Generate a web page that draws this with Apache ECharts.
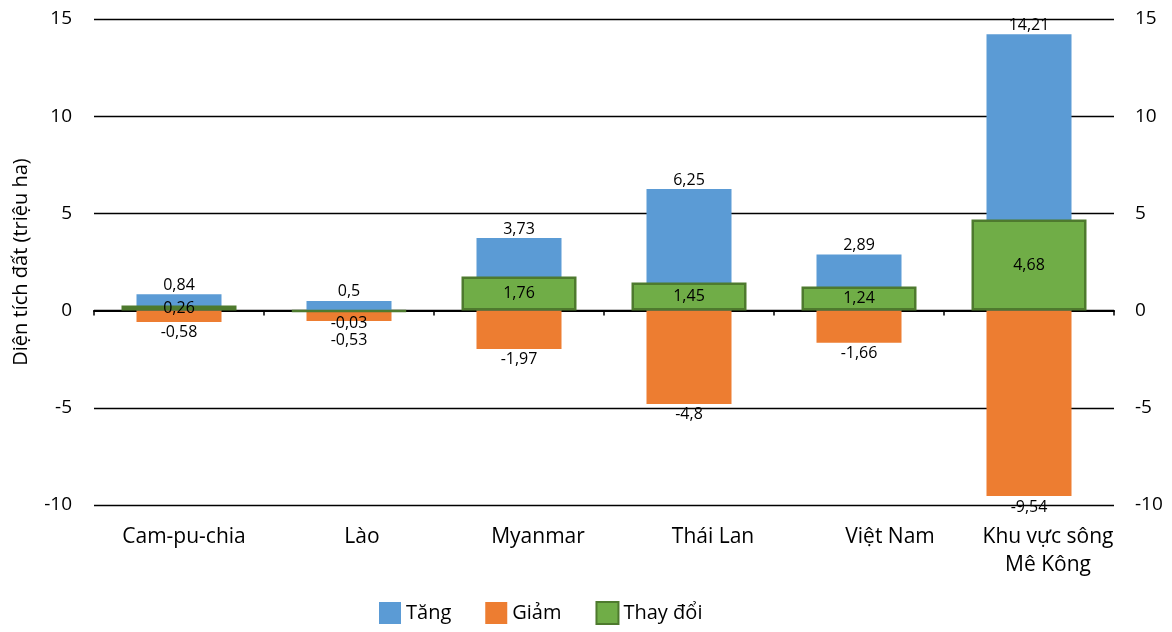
<!DOCTYPE html>
<html>
<head>
<meta charset="utf-8">
<script src="https://cdn.jsdelivr.net/npm/echarts@6/dist/echarts.min.js"></script>
<style>
  html, body { margin: 0; padding: 0; background: #fff; }
  #main { width: 1172px; height: 632px; }
</style>
</head>
<body>
<div id="main"></div>
<script>
// Chart data
const categories = ['Cam-pu-chia', 'Lào', 'Myanmar', 'Thái Lan', 'Việt Nam', 'Khu vực sông\nMê Kông'];
const tang = [0.84, 0.5, 3.73, 6.25, 2.89, 14.21];
const giam = [-0.58, -0.53, -1.97, -4.8, -1.66, -9.54];
const thayDoi = [0.26, -0.03, 1.76, 1.45, 1.24, 4.68];
const yTicks = { min: -10, max: 15, interval: 5 };

const font = 'Open Sans';
const fmt = v => String(v).replace('.', ',');

// the original's category names drift a little to the right of each slot
const labelShift = [5, 13, 19, 24, 31, 19];
const bottomCats = categories.map((c, i) => ({
  value: c,
  textStyle: { padding: [0, 0, 0, labelShift[i] * 2] }
}));

// tiny negative change sits below the line instead of inside
const thayDoiData = thayDoi.map(v => v < 0 && v > -0.2
  ? { value: v, label: { position: 'bottom', distance: 3 } }
  : v);
// push the orange label down where it would collide with that one
const giamData = giam.map((v, i) => thayDoi[i] < 0 && thayDoi[i] > -0.2
  ? { value: v, label: { distance: 12 } }
  : v);

var myChart = echarts.init(document.getElementById('main'));

const option = {
  textStyle: { fontFamily: font },
  animation: false,
  grid: { left: 94, right: 58, top: 19, bottom: 127, containLabel: false, outerBoundsMode: 'none' },
  legend: {
    bottom: 2,
    left: 374,
    icon: 'rect',
    itemWidth: 22,
    itemHeight: 22,
    itemGap: 34,
    textStyle: { fontSize: 20, color: '#000', fontFamily: font },
    data: ['Tăng', 'Giảm', 'Thay đổi']
  },
  xAxis: [
    {
      // zero line with ticks between categories
      type: 'category',
      data: categories,
      axisLine: { onZero: true, lineStyle: { color: '#000', width: 2 } },
      axisTick: { show: true, length: 5, lineStyle: { color: '#000', width: 1.5 } },
      axisLabel: { show: false }
    },
    {
      type: 'category',
      data: categories,
      show: false
    },
    {
      // category names under the plot
      type: 'category',
      data: bottomCats,
      position: 'bottom',
      axisLine: { show: false, onZero: false },
      axisTick: { show: false },
      axisLabel: { interval: 0, hideOverlap: false, margin: 18, fontSize: 21, color: '#000', lineHeight: 28, fontFamily: font }
    }
  ],
  yAxis: [
    {
      type: 'value',
      ...yTicks,
      name: 'Diện tích đất (triệu ha)',
      nameLocation: 'middle',
      nameGap: 63,
      nameTextStyle: { fontSize: 20, color: '#000', fontFamily: font },
      axisLine: { show: false },
      axisTick: { show: false },
      axisLabel: { fontSize: 19, color: '#000', margin: 22, fontFamily: font },
      splitLine: { lineStyle: { color: '#000', width: 1.4 } }
    },
    {
      type: 'value',
      ...yTicks,
      position: 'right',
      axisLine: { show: false },
      axisTick: { show: false },
      axisLabel: { fontSize: 19, color: '#000', margin: 21, fontFamily: font },
      splitLine: { show: false }
    }
  ],
  series: [
    {
      name: 'Tăng',
      type: 'bar',
      data: tang,
      barWidth: 85,
      barGap: '-100%',
      itemStyle: { color: '#5B9BD5' },
      label: { show: true, position: 'top', distance: 1, fontSize: 16, color: '#000', formatter: p => fmt(p.value) }
    },
    {
      name: 'Giảm',
      type: 'bar',
      data: giamData,
      barWidth: 85,
      barGap: '-100%',
      itemStyle: { color: '#ED7D31' },
      label: { show: true, position: 'bottom', distance: 3, fontSize: 16, color: '#000', formatter: p => fmt(p.value) }
    },
    {
      name: 'Thay đổi',
      type: 'bar',
      xAxisIndex: 1,
      data: thayDoiData,
      barWidth: 115,
      z: 5,
      itemStyle: { color: '#70AD47', borderColor: '#4E7A2E', borderWidth: 2.5 },
      label: { show: true, position: 'inside', fontSize: 16, color: '#000', formatter: p => fmt(p.value) }
    }
  ]
};

myChart.setOption(option);
</script>
</body>
</html>
